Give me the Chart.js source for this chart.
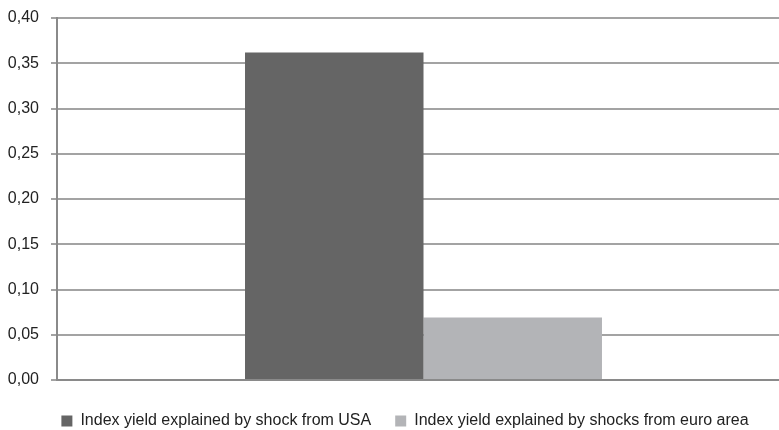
<!DOCTYPE html>
<html>
<head>
<meta charset="utf-8">
<script src="https://cdn.jsdelivr.net/npm/chart.js@4/dist/chart.umd.min.js"></script>
<style>
  html, body { margin: 0; padding: 0; background: #ffffff; overflow: hidden; }
  #wrap { width: 779px; height: 430px; overflow: hidden; position: relative; }
  canvas { display: block; }
</style>
</head>
<body>
<div id="wrap"><canvas id="chart" width="790" height="430"></canvas></div>
<script>
// Share of index yield explained by external shocks
const categories = [''];
const usaShock = [0.362];
const euroAreaShock = [0.069];
const seriesNames = [
  'Index yield explained by shock from USA',
  'Index yield explained by shocks from euro area'
];
const yTickValues = [0, 0.05, 0.10, 0.15, 0.20, 0.25, 0.30, 0.35, 0.40];
const yTickLabels = ['0,00', '0,05', '0,10', '0,15', '0,20', '0,25', '0,30', '0,35', '0,40'];

const FONT = "'Liberation Sans', Arial, Helvetica, sans-serif";
Chart.defaults.font.family = FONT;
Chart.defaults.font.size = 16;
Chart.defaults.color = '#222222';

// Nudges the legend row so it sits under the plot the way the layout wants
const legendShift = {
  id: 'legendShift',
  afterLayout(chart) {
    const lg = chart.legend;
    if (!lg) return;
    lg.left += 10;
    lg.right += 10;
  }
};

new Chart(document.getElementById('chart'), {
  type: 'bar',
  data: {
    labels: categories,
    datasets: [
      {
        label: seriesNames[0],
        data: usaShock,
        backgroundColor: '#656565',
        borderWidth: 0
      },
      {
        label: seriesNames[1],
        data: euroAreaShock,
        backgroundColor: '#b3b4b7',
        borderWidth: 0
      }
    ]
  },
  options: {
    responsive: false,
    animation: false,
    layout: { padding: { top: 18, bottom: -9, left: 0, right: 0 } },
    datasets: {
      bar: { categoryPercentage: 0.487, barPercentage: 1.0 }
    },
    plugins: {
      legend: {
        position: 'bottom',
        align: 'center',
        labels: {
          boxWidth: 11,
          boxHeight: 11,
          padding: 24,
          color: '#222222',
          font: { size: 16, family: FONT }
        }
      },
      tooltip: { enabled: false },
      title: { display: false }
    },
    scales: {
      x: {
        grid: {
          display: true,
          drawOnChartArea: false,
          drawTicks: true,
          tickLength: 9,
          color: 'rgba(0,0,0,0)'
        },
        border: { display: true, color: '#8a8a8a', width: 2 },
        ticks: { display: false }
      },
      y: {
        min: 0,
        max: 0.40,
        afterBuildTicks(scale) {
          scale.ticks = yTickValues.map(v => ({ value: v }));
        },
        afterFit(scale) {
          scale.width = 57;
          scale.paddingTop = 0;
          scale.paddingBottom = 0;
        },
        grid: {
          color: '#a3a3a3',
          lineWidth: 2,
          drawTicks: true,
          tickLength: 6
        },
        border: { display: true, color: '#8a8a8a', width: 2 },
        ticks: {
          padding: 12,
          color: '#222222',
          font: { size: 16, family: FONT },
          callback(value, index) { return yTickLabels[index]; }
        }
      }
    }
  },
  plugins: [legendShift]
});
</script>
</body>
</html>
